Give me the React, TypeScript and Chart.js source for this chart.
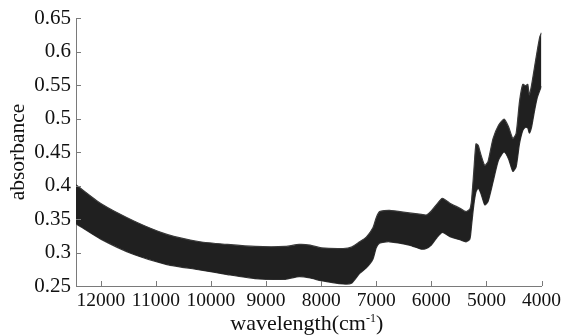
import React, { useEffect, useRef } from "react";
import { Chart, registerables } from "chart.js";

Chart.register(...registerables);

// wavenumber (cm^-1)
const wavenumbers = [
  12450, 12000, 11400, 10800, 10200, 9700, 9200, 8650, 8400, 8200, 8000, 7600, 7450, 7300, 7180, 7060,
  7000, 6940, 6760, 6400, 6180, 6090, 6000, 5900, 5800, 5670, 5480, 5370, 5300, 5270, 5230, 5190,
  5150, 5100, 5030, 4970, 4880, 4780, 4680, 4600, 4520, 4460, 4400, 4340, 4290, 4250, 4220, 4180,
  4130, 4080, 4030, 4000,
];

// upper envelope of the spectra set
const upperAbsorbance = [
  0.401, 0.373, 0.347, 0.327, 0.316, 0.312, 0.309, 0.309, 0.312, 0.311, 0.307, 0.306, 0.308, 0.316, 0.323, 0.337,
  0.352, 0.361, 0.363, 0.359, 0.357, 0.356, 0.362, 0.372, 0.381, 0.374, 0.366, 0.361, 0.365, 0.378, 0.42, 0.462,
  0.46, 0.446, 0.43, 0.436, 0.47, 0.49, 0.499, 0.488, 0.47, 0.478, 0.525, 0.551, 0.549, 0.551, 0.535, 0.55,
  0.575, 0.6, 0.622, 0.628,
];

// lower envelope of the spectra set
const lowerAbsorbance = [
  0.343, 0.32, 0.297, 0.282, 0.274, 0.267, 0.261, 0.26, 0.264, 0.262, 0.258, 0.253, 0.254, 0.269, 0.277, 0.29,
  0.307, 0.314, 0.316, 0.311, 0.305, 0.306, 0.311, 0.322, 0.33, 0.324, 0.319, 0.316, 0.32, 0.34, 0.37, 0.39,
  0.396, 0.388, 0.371, 0.376, 0.405, 0.438, 0.45, 0.44, 0.421, 0.428, 0.462, 0.482, 0.487, 0.486, 0.478, 0.487,
  0.51, 0.53, 0.542, 0.548,
];

const xTicks = [12000, 11000, 10000, 9000, 8000, 7000, 6000, 5000, 4000];
const yTicks = [0.25, 0.3, 0.35, 0.4, 0.45, 0.5, 0.55, 0.6, 0.65];

const FONT = "'Liberation Serif', 'Times New Roman', serif";
const AXIS_COLOR = "#7a7a7a";

const innerTicks = {
  id: "innerTicks",
  afterDraw(chart: any) {
    const { ctx, chartArea, scales } = chart;
    ctx.save();
    ctx.strokeStyle = AXIS_COLOR;
    ctx.lineWidth = 1;
    ctx.beginPath();
    for (const t of xTicks) {
      const px = Math.round(scales.x.getPixelForValue(t)) + 0.5;
      ctx.moveTo(px, chartArea.bottom);
      ctx.lineTo(px, chartArea.bottom - 5);
    }
    for (const t of yTicks) {
      const py = Math.round(scales.y.getPixelForValue(t)) + 0.5;
      ctx.moveTo(chartArea.left, py);
      ctx.lineTo(chartArea.left + 5, py);
    }
    ctx.stroke();

    // x-axis title with a real superscript
    const main = "wavelength(cm";
    const sup = "-1";
    const close = ")";
    ctx.fillStyle = "#111";
    ctx.textBaseline = "alphabetic";
    ctx.textAlign = "left";
    ctx.font = `22px ${FONT}`;
    const wMain = ctx.measureText(main).width;
    const wClose = ctx.measureText(close).width;
    ctx.font = `12px ${FONT}`;
    const wSup = ctx.measureText(sup).width;
    const total = wMain + wSup + wClose;
    const cx = (chartArea.left + chartArea.right) / 2 - 2;
    const baseY = 330;
    let x0 = cx - total / 2;
    ctx.font = `22px ${FONT}`;
    ctx.fillText(main, x0, baseY);
    x0 += wMain;
    ctx.font = `12px ${FONT}`;
    ctx.fillText(sup, x0, baseY - 8);
    x0 += wSup;
    ctx.font = `22px ${FONT}`;
    ctx.fillText(close, x0, baseY);
    ctx.restore();
  },
};

export default function App() {
  const ref = useRef<HTMLCanvasElement | null>(null);
  useEffect(() => {
    if (!ref.current) return;
    const toPts = (vals: number[]) => wavenumbers.map((w, i) => ({ x: w, y: vals[i] }));
    const chart = new Chart(ref.current, {
      type: "line",
      data: {
        datasets: [
          {
            label: "upper",
            data: toPts(upperAbsorbance),
            borderColor: "#3a3a3a",
            backgroundColor: "#202020",
            borderWidth: 1.2,
            pointRadius: 0,
            tension: 0.2,
            fill: "+1",
          },
          {
            label: "lower",
            data: toPts(lowerAbsorbance),
            borderColor: "#3a3a3a",
            borderWidth: 1.2,
            pointRadius: 0,
            tension: 0.2,
            fill: false,
          },
        ],
      },
      options: {
        responsive: false,
        animation: false,
        devicePixelRatio: 1,
        layout: { padding: { top: 18, right: 22, left: 0, bottom: 0 } },
        plugins: { legend: { display: false }, tooltip: { enabled: false } },
        scales: {
          x: {
            type: "linear",
            reverse: true,
            min: 4000,
            max: 12450,
            afterFit: (s: any) => {
              s.height = 49;
            },
            afterBuildTicks: (s: any) => {
              s.ticks = xTicks.map((v) => ({ value: v }));
            },
            grid: { display: false, drawTicks: false },
            border: { display: true, color: AXIS_COLOR, width: 1 },
            ticks: {
              color: "#111",
              font: { family: FONT, size: 19.5 },
              padding: 3,
              maxRotation: 0,
              autoSkip: false,
              callback: (v: any) => String(v),
            },
            title: { display: false },
          },
          y: {
            type: "linear",
            min: 0.25,
            max: 0.65,
            afterFit: (s: any) => {
              s.width = 76;
            },
            afterBuildTicks: (s: any) => {
              s.ticks = yTicks.map((v) => ({ value: v }));
            },
            grid: { display: false, drawTicks: false },
            border: { display: true, color: AXIS_COLOR, width: 1 },
            ticks: {
              color: "#111",
              font: { family: FONT, size: 21 },
              padding: 5,
              autoSkip: false,
              callback: (v: any) => String(+Number(v).toFixed(2)),
            },
            title: {
              display: true,
              text: "absorbance",
              color: "#111",
              font: { family: FONT, size: 21.5 },
              padding: { top: 5, bottom: 0 },
            },
          },
        },
      },
      plugins: [innerTicks],
    });
    return () => chart.destroy();
  }, []);
  return (
    <div style={{ position: "fixed", left: 0, top: 0, width: 564, height: 335, background: "#fff" }}>
      <canvas ref={ref} width={564} height={335} style={{ width: 564, height: 335 }} />
    </div>
  );
}
